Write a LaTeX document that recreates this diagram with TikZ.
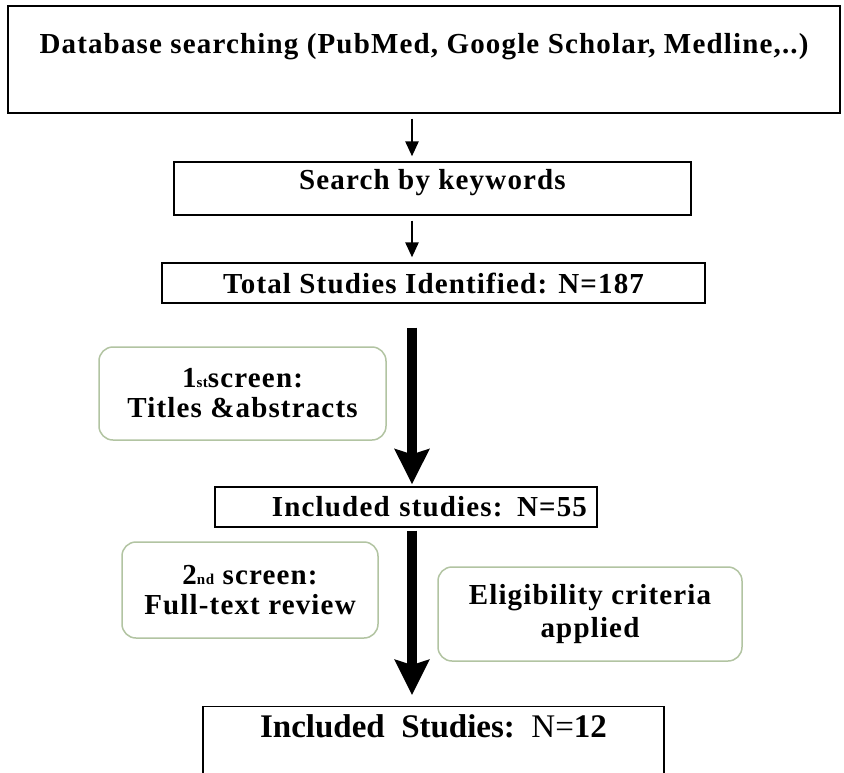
\documentclass[tikz,border=0pt]{standalone}
\usepackage{fontspec}
\setmainfont{Liberation Serif}
\newfontfamily\spacedserif{Liberation Serif}[LetterSpace=4]
\usetikzlibrary{arrows.meta}
\definecolor{screengreen}{RGB}{178,196,162}

\begin{document}
\begin{tikzpicture}[x=1pt, y=-1pt,
    blackbox/.style={draw, line width=1.3pt, fill=white, inner sep=0pt,
      font=\spacedserif\bfseries\fontsize{29}{30}\selectfont},
    screenbox/.style={draw=screengreen, line width=1.5pt, rounded corners=14pt,
      fill=white, align=center, inner sep=0pt,
      font=\spacedserif\bfseries\fontsize{29}{30}\selectfont},
    thinarrow/.style={-{Triangle[width=13pt,length=15pt]}, line width=2.5pt},
    bigarrow/.style={-{Stealth[width=34pt,length=35pt,inset=5pt]}, line width=10pt}]
  \path [fill=white] (0,0) rectangle (844,772);
  \useasboundingbox (0,0) rectangle (844,772);
  \clip (0,0) rectangle (844,772);

  % main column
  \coordinate (spine) at (412,0);
  \node at (424,59.5) [blackbox, minimum width=832pt, minimum height=107pt, align=center,
    font=\spacedserif\bfseries\fontsize{29}{24}\selectfont] (dbase) {Database searching (PubMed, Google Scholar, Medline,..)\\\strut};
  \node at (432.5,188.5) [blackbox, minimum width=517pt, minimum height=53pt, text depth=18pt] (search) {Search by keywords};
  \node at (433.5,283) [blackbox, minimum width=543pt, minimum height=40pt] (total) {Total Studies Identified: N=187};
  \node at (406,507) [blackbox, minimum width=382pt, minimum height=40pt, text width=362pt, align=right] (inc55) {Included studies: N=55};
  \node at (433.5,706) [blackbox, anchor=north, minimum width=461pt, inner ysep=8pt, text depth=80pt,
    font=\bfseries\fontsize{33}{38}\selectfont] (final) {Included\ \ Studies:\ \ {\mdseries N=}12};

  % screening notes
  \node at (242.5,393.5) [screenbox, minimum width=287pt, minimum height=93pt] (screen1) {1{\fontsize{15}{15}\selectfont st}screen:\\Titles \&abstracts};
  \node at (250,590) [screenbox, minimum width=256pt, minimum height=96pt] (screen2) {2{\fontsize{15}{15}\selectfont nd} screen:\\Full-text review};
  \node at (590,614) [screenbox, minimum width=304pt, minimum height=94pt,
    font=\spacedserif\bfseries\fontsize{29}{33}\selectfont] (elig) {Eligibility criteria\\applied};

  \draw [thinarrow, shorten <=5pt, shorten >=5pt] (dbase.south -| spine) -- (search.north -| spine);
  \draw [thinarrow, shorten <=5pt, shorten >=5pt] (search.south -| spine) -- (total.north -| spine);
  \draw [bigarrow, shorten <=24pt, shorten >=2pt] (total.south -| spine) -- (inc55.north -| spine);
  \draw [bigarrow, shorten <=3pt, shorten >=11pt] (inc55.south -| spine) -- (final.north -| spine);
\end{tikzpicture}
\end{document}
